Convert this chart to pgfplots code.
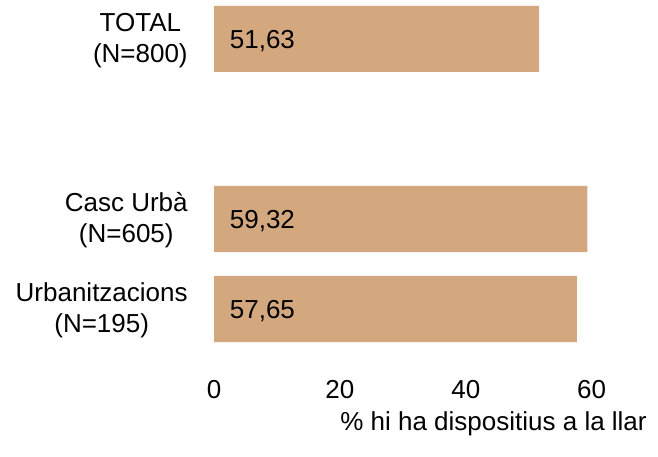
\documentclass[border=0pt]{standalone}
\usepackage{fontspec}
\setmainfont{Liberation Sans}
\usepackage{pgfplots}
\pgfplotsset{compat=1.18}
\definecolor{barc}{HTML}{D4A87E}
\begin{document}
\begin{tikzpicture}
\useasboundingbox (0,0) rectangle (658bp,457bp);
\begin{axis}[
  at={(214bp,103bp)}, anchor=south west,
  scale only axis, width=440.65bp, height=351bp,
  xmin=0, xmax=70, ymin=-0.5, ymax=3.4,
  enlargelimits=false, clip=false,
  axis lines=left, axis line style={draw=none}, tick style={draw=none},
  font=\fontsize{26bp}{31bp}\selectfont,
  /pgf/number format/assume math mode=true,
  xtick={0,20,40,60},
  xticklabel style={anchor=base, yshift=-42.7bp, inner sep=0pt, font=\fontsize{26bp}{31bp}\selectfont},
  ytick={0,1,3},
  yticklabels={{Urbanitzacions\\(N=195)},{Casc Urbà\\(N=605)},{TOTAL\\(N=800)}},
  yticklabel style={align=center, anchor=east, inner sep=0pt, xshift=-24bp, yshift=-1.5bp, font=\fontsize{26bp}{31bp}\selectfont},
  xlabel={\% hi ha dispositius a la llar},
  xlabel style={at={(axis description cs:0.6343,0)}, anchor=base, yshift=-76bp, inner sep=0pt, font=\fontsize{26bp}{31bp}\selectfont},
]
\addplot[xbar, bar width=66bp, fill=barc, draw=none] coordinates {(57.65,0) (59.32,1) (51.63,3)};
\addplot[draw=none, mark=none, nodes near coords, point meta=explicit symbolic,
  nodes near coords style={anchor=base west, xshift=15.7bp, yshift=-9.3bp, inner sep=0pt, font=\fontsize{26bp}{31bp}\selectfont}]
  coordinates {(0,0) [57,65] (0,1) [59,32] (0,3) [51,63]};
\end{axis}
\end{tikzpicture}
\end{document}
